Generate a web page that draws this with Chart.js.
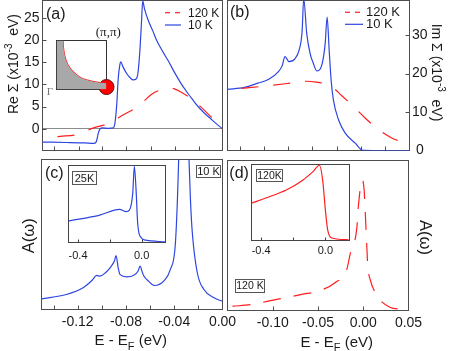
<!DOCTYPE html>
<html>
<head>
<meta charset="utf-8">
<script src="https://cdn.jsdelivr.net/npm/chart.js@4.4.0/dist/chart.umd.min.js"></script>
<style>
  html, body { margin: 0; padding: 0; background: #fff; }
  #wrap { position: relative; width: 450px; height: 351px; overflow: hidden; }
  #wrap canvas { position: absolute; left: 0; top: 0; }
</style>
</head>
<body>
<div id="wrap">
  <canvas id="pa" width="450" height="351"></canvas>
  <canvas id="pb" width="450" height="351"></canvas>
  <canvas id="pc" width="450" height="351"></canvas>
  <canvas id="pd" width="450" height="351"></canvas>
  <canvas id="pci" width="450" height="351"></canvas>
  <canvas id="pdi" width="450" height="351"></canvas>
  <canvas id="pbz" width="450" height="351"></canvas>
</div>
<script>
// (a) Re Sigma
const reE10 = [-0.150, -0.130, -0.115, -0.107, -0.105, -0.1035, -0.102, -0.100, -0.095, -0.091, -0.0895, -0.088, -0.087, -0.0855, -0.0848, -0.083, -0.080, -0.077, -0.0745, -0.072, -0.0705, -0.069, -0.0675, -0.0665, -0.065, -0.062, -0.058, -0.055, -0.050, -0.045, -0.040, -0.035, -0.030, -0.025, -0.020, -0.015, -0.010, -0.005, 0.000]
const reS10 = [-3.0, -3.1, -3.2, -3.3, -2.8, -1.0, 0.0, 0.2, 0.1, 0.2, 1.5, 6.0, 11.0, 14.5, 15.1, 14.0, 12.5, 11.5, 11.0, 11.2, 12.5, 17.0, 24.0, 28.8, 27.0, 24.5, 22.0, 20.0, 17.5, 15.2, 12.7, 10.4, 8.4, 6.6, 4.9, 3.5, 2.3, 1.1, 0.0]
const reE120 = [-0.150, -0.135, -0.121, -0.108, -0.094, -0.083, -0.070, -0.059, -0.050, -0.045, -0.040, -0.033, -0.025, -0.020, -0.010, 0.000]
const reS120 = [-2.0, -1.7, -1.3, 0.15, 1.3, 3.1, 5.1, 7.8, 8.9, 9.2, 9.0, 8.0, 6.6, 5.4, 2.8, 0.0]

// (b) Im Sigma
const imE10 = [-0.150, -0.136, -0.125, -0.116, -0.108, -0.105, -0.1026, -0.0993, -0.0943, -0.091, -0.0885, -0.0872, -0.0847, -0.0819, -0.0792, -0.0764, -0.0723, -0.0695, -0.0679, -0.0662, -0.0646, -0.0627, -0.0585, -0.053, -0.0447, -0.039, -0.030, 0.000]
const imS10 = [15.9, 16.4, 17.5, 18.5, 20.5, 22.0, 24.4, 23.1, 23.9, 26.1, 31.0, 39.5, 30.4, 25.2, 22.6, 20.7, 22.2, 27.8, 34.7, 26.1, 18.3, 13.1, 8.0, 4.5, 1.9, 0.1, 0.0, 0.0]
const imE120 = [-0.150, -0.130, -0.112, -0.096, -0.085, -0.077, -0.0695, -0.063, -0.057, -0.046, -0.0364, -0.0254, -0.013, 0.000]
const imS120 = [15.9, 16.4, 17.0, 17.6, 18.0, 17.8, 17.3, 16.3, 14.6, 11.4, 8.4, 5.4, 3.0, 1.9]

// (c) A(w) 10 K, inset 25 K
const cE10 = [-0.150, -0.1294, -0.1155, -0.108, -0.1043, -0.1016, -0.097, -0.0932, -0.0895, -0.0882, -0.0865, -0.0849, -0.0793, -0.0738, -0.070, -0.0683, -0.0665, -0.0654, -0.0613, -0.0565, -0.0487, -0.0432, -0.039, -0.0365, -0.0355, -0.033, -0.030, -0.028, -0.0265, -0.025, -0.0209, -0.0154, -0.007, 0.000]
const cA10 = [7.1, 10.0, 14.5, 19.5, 22.7, 22.2, 24.5, 27.8, 32.5, 36.0, 28.0, 23.3, 21.8, 22.7, 25.5, 28.9, 25.0, 22.7, 18.9, 16.0, 18.9, 26.7, 44.5, 95, 130, 250, 160, 105, 72, 51, 24.5, 13.3, 7.8, 5.5]
const cInsE = [-0.46, -0.263, -0.139, -0.097, -0.077, -0.056, -0.046, -0.035, -0.025, -0.004, 0.027, 0.15]
const cInsA = [27.8, 35.6, 43.0, 40.0, 42.0, 64.0, 99.0, 68.0, 25.0, 6.5, 3.0, 0.8]

// (d) A(w) 120 K, inset 120 K
const dE120 = [-0.150, -0.1438, -0.1234, -0.105, -0.0829, -0.068, -0.0478, -0.0312, -0.0182, -0.0146, -0.0071, -0.0054, -0.001, 0.001, 0.003, 0.005, 0.008, 0.0145, 0.020, 0.030, 0.040, 0.050]
const dA120 = [2.6, 2.9, 4.0, 6.2, 8.9, 10.7, 13.3, 18.5, 27.3, 37.3, 55.0, 69.5, 87.0, 80.0, 55.0, 30.0, 20.0, 10.5, 6.0, 2.0, 0.9, 0.5]
const dInsE = [-0.462, -0.348, -0.244, -0.141, -0.079, -0.037, -0.017, 0.0, 0.014, 0.045, 0.145]
const dInsA = [49, 57.6, 66.4, 79.4, 90.3, 99, 79.4, 40, 14, 3, 1]

// Brillouin zone sketch (fractions of the box)
const bzFermiX = [0.13, 0.14, 0.17, 0.22, 0.30, 0.40, 0.50, 0.62, 0.74, 0.87, 1.0]
const bzFermiY = [1.0, 0.85, 0.67, 0.52, 0.40, 0.30, 0.235, 0.19, 0.16, 0.14, 0.13]
const bzSpot = [1.0, 0.05]

const W = 450
const H = 351
const BLUE = 'rgb(45,70,225)'
const RED = 'rgb(255,30,30)'
const INK = '#1a1a1a'
const SANS = "'Liberation Sans', Arial, Helvetica, sans-serif"
const SERIF = "'Liberation Serif', 'Times New Roman', serif"
const f = (s, fam) => s + 'px ' + (fam || SANS)

Chart.defaults.font.family = SANS
Chart.defaults.color = INK

const pts = (xs, ys) => xs.map((x, i) => ({ x: x, y: ys[i] }))
const fix2 = v => (Math.round(v * 100) / 100).toFixed(2)
const fix1 = v => (Math.round(v * 10) / 10).toFixed(1)

function rich(ctx, parts, x, y, rot, align) {
  ctx.save()
  ctx.translate(x, y)
  ctx.rotate(rot || 0)
  ctx.textBaseline = 'alphabetic'
  ctx.textAlign = 'left'
  let w = 0
  parts.forEach(p => { ctx.font = p.font; w += ctx.measureText(p.t).width })
  let cx = align === 'left' ? 0 : -w / 2
  parts.forEach(p => {
    ctx.font = p.font
    ctx.fillStyle = p.color || INK
    ctx.fillText(p.t, cx, p.dy || 0)
    cx += ctx.measureText(p.t).width
  })
  ctx.restore()
}

function deco(cfg) {
  return {
    id: 'deco',
    beforeDraw(chart) {
      if (!cfg.bg) return
      const a = chart.chartArea
      chart.ctx.save()
      chart.ctx.fillStyle = cfg.bg
      chart.ctx.fillRect(a.left, a.top, a.right - a.left, a.bottom - a.top)
      chart.ctx.restore()
    },
    beforeDatasetsDraw(chart) {
      const ctx = chart.ctx
      const a = chart.chartArea
      ctx.save()
      ctx.lineWidth = 1
      ctx.strokeStyle = cfg.frame || '#4d4d4d'
      ctx.strokeRect(a.left, a.top, a.right - a.left, a.bottom - a.top)
      ;(cfg.ticks || []).forEach(([id, len]) => {
        const s = chart.scales[id]
        ctx.beginPath()
        s.ticks.forEach(t => {
          const p = s.getPixelForValue(t.value)
          if (s.isHorizontal()) {
            if (p < a.left + 1 || p > a.right - 1) return
            const x = Math.round(p) + 0.5
            ctx.moveTo(x, a.bottom)
            ctx.lineTo(x, a.bottom - len)
          } else {
            if (p < a.top + 1 || p > a.bottom - 1) return
            const y = Math.round(p) + 0.5
            if (s.position === 'right') { ctx.moveTo(a.right, y); ctx.lineTo(a.right - len, y) }
            else { ctx.moveTo(a.left, y); ctx.lineTo(a.left + len, y) }
          }
        })
        ctx.stroke()
      })
      ctx.restore()
    },
    afterDraw(chart) {
      const ctx = chart.ctx
      ctx.save()
      ctx.lineWidth = 1
      ;(cfg.boxes || []).forEach(b => {
        ctx.fillStyle = '#fff'
        ctx.fillRect(b.x1, b.y1, b.x2 - b.x1, b.y2 - b.y1)
        ctx.strokeStyle = '#555'
        ctx.strokeRect(b.x1, b.y1, b.x2 - b.x1, b.y2 - b.y1)
        ctx.fillStyle = INK
        ctx.font = f(b.size)
        ctx.textAlign = 'center'
        ctx.textBaseline = 'middle'
        ctx.fillText(b.t, (b.x1 + b.x2) / 2, (b.y1 + b.y2) / 2 + 0.5)
      })
      ;(cfg.legend || []).forEach(l => {
        const ds = chart.data.datasets[l.ds]
        ctx.strokeStyle = ds.borderColor
        ctx.lineWidth = 1.2
        ctx.setLineDash(ds.borderDash && ds.borderDash.length ? [5, 5] : [])
        ctx.beginPath()
        ctx.moveTo(l.x1, l.y)
        ctx.lineTo(l.x2, l.y)
        ctx.stroke()
        ctx.setLineDash([])
        ctx.fillStyle = INK
        ctx.font = f(l.size)
        ctx.textAlign = 'left'
        ctx.textBaseline = 'middle'
        ctx.fillText(ds.label, l.tx, l.y + 0.5)
      })
      ;(cfg.texts || []).forEach(t => rich(ctx, t.parts, t.x, t.y, t.rot, t.align))
      ctx.restore()
    }
  }
}

function zeroPad(s) {
  s.paddingTop = 0
  s.paddingBottom = 0
  s.paddingLeft = 0
  s.paddingRight = 0
}

function panel(id, area, xs, ys, datasets, cfg) {
  const yRight = ys.position === 'right'
  return new Chart(document.getElementById(id), {
    type: 'line',
    data: { datasets: datasets },
    options: {
      responsive: false,
      animation: false,
      devicePixelRatio: 1,
      events: [],
      layout: {
        autoPadding: false,
        padding: { left: yRight ? area.l : 0, right: yRight ? 0 : W - area.r, top: area.t, bottom: 0 }
      },
      plugins: { legend: { display: false }, tooltip: { enabled: false } },
      elements: { point: { radius: 0 }, line: { tension: 0 } },
      scales: {
        x: {
          type: 'linear',
          position: 'bottom',
          min: xs.min,
          max: xs.max,
          grid: { display: false, drawTicks: false },
          border: { display: false },
          ticks: Object.assign({ autoSkip: false, maxRotation: 0, includeBounds: false, display: false }, xs.ticks),
          afterFit: s => { s.height = H - area.b; zeroPad(s) }
        },
        y: {
          type: 'linear',
          position: ys.position || 'left',
          min: ys.min,
          max: ys.max,
          grid: ys.grid || { display: false, drawTicks: false },
          border: { display: false },
          ticks: Object.assign({ autoSkip: false, includeBounds: false, display: false }, ys.ticks),
          afterFit: s => { s.width = yRight ? W - area.r : area.l; zeroPad(s) }
        }
      }
    },
    plugins: [deco(cfg)]
  })
}

const line = (label, data, color, dash, offset) => ({
  label: label,
  data: data,
  borderColor: color,
  backgroundColor: color,
  borderWidth: 1.2,
  borderDash: dash || [],
  borderDashOffset: offset || 0,
  cubicInterpolationMode: 'monotone',
  pointRadius: 0,
  fill: false
})

const xTitle = (x, y) => ({
  parts: [{ t: 'E - E', font: f(15) }, { t: 'F', font: f(11), dy: 4.5 }, { t: ' (eV)', font: f(15) }],
  x: x, y: y
})

// (a)
panel('pa', { l: 42.5, r: 222.5, t: 0.5, b: 150.5 },
  { min: -0.15, max: 0, ticks: { stepSize: 0.02 } },
  {
    min: -4.9, max: 28.9,
    ticks: { display: true, stepSize: 5, padding: 3, font: { size: 14 } },
    grid: { display: true, drawTicks: false, lineWidth: 1, color: c => (c.tick && c.tick.value === 0 ? '#8c8c8c' : 'rgba(0,0,0,0)') }
  },
  [
    line('120 K', pts(reE120, reS120), RED, [17, 15], 17),
    line('10 K', pts(reE10, reS10), BLUE)
  ],
  {
    ticks: [['x', 4], ['y', 4]],
    legend: [{ ds: 0, x1: 165, x2: 181, y: 12.7, tx: 188, size: 12 }, { ds: 1, x1: 165, x2: 181, y: 25, tx: 188, size: 12 }],
    texts: [
      { parts: [{ t: '(a)', font: f(16) }], x: 46, y: 18.5, align: 'left' },
      { parts: [{ t: 'Re Σ (x10', font: f(14) }, { t: '-3', font: f(10), dy: -6 }, { t: '  eV)', font: f(14) }], x: 17.5, y: 64, rot: -Math.PI / 2 }
    ]
  })

// (b)
panel('pb', { l: 227.5, r: 409.5, t: 0.5, b: 150.5 },
  { min: -0.15, max: 0, ticks: { stepSize: 0.02 } },
  { position: 'right', min: 0, max: 39, ticks: { display: true, stepSize: 10, padding: 2.5, crossAlign: 'center', font: { size: 14 } } },
  [
    line('120 K', pts(imE120, imS120), RED, [17, 15], 18),
    line('10 K', pts(imE10, imS10), BLUE)
  ],
  {
    ticks: [['x', 4], ['y', 4]],
    legend: [{ ds: 0, x1: 345, x2: 363, y: 12.3, tx: 366, size: 13 }, { ds: 1, x1: 345, x2: 363, y: 24.3, tx: 366, size: 13 }],
    texts: [
      { parts: [{ t: '(b)', font: f(16) }], x: 230, y: 16.6, align: 'left' },
      { parts: [{ t: 'Im Σ (x10', font: f(14) }, { t: '-3', font: f(10), dy: -6 }, { t: '  eV)', font: f(14) }], x: 432, y: 72.5, rot: Math.PI / 2 }
    ]
  })

// (c)
panel('pc', { l: 41.5, r: 222.5, t: 159.5, b: 309.5 },
  { min: -0.15, max: 0, ticks: { display: true, stepSize: 0.02, padding: 4, font: { size: 14 }, callback: v => (Math.round(v * 100) % 4 === 0 ? fix2(v) : '') } },
  { min: 0, max: 100 },
  [line('10 K', pts(cE10, cA10), BLUE)],
  {
    ticks: [['x', 4]],
    boxes: [{ x1: 196.5, y1: 165.5, x2: 220.5, y2: 177.5, t: '10 K', size: 11 }],
    texts: [
      { parts: [{ t: '(c)', font: f(16) }], x: 45, y: 178.3, align: 'left' },
      { parts: [{ t: 'A(ω)', font: f(16.5) }], x: 34, y: 235.7, rot: -Math.PI / 2 },
      xTitle(130.8, 345)
    ]
  })

// (d)
panel('pd', { l: 227.5, r: 408.5, t: 160.5, b: 310.5 },
  { min: -0.15, max: 0.05, ticks: { display: true, stepSize: 0.05, padding: 4, font: { size: 14 }, callback: v => (v < -0.14 ? '' : fix2(v)) } },
  { min: 0, max: 100 },
  [line('120 K', pts(dE120, dA120), RED, [18, 13], 26)],
  {
    ticks: [['x', 4]],
    boxes: [{ x1: 235.5, y1: 279.5, x2: 264.5, y2: 292.5, t: '120 K', size: 10.5 }],
    texts: [
      { parts: [{ t: '(d)', font: f(16) }], x: 229.3, y: 178.3, align: 'left' },
      { parts: [{ t: 'A(ω)', font: f(16.5) }], x: 420, y: 237.5, rot: Math.PI / 2 },
      xTitle(336.7, 346.5)
    ]
  })

// insets
const insetX = pad => ({
  min: -0.46, max: 0.15,
  ticks: { display: true, stepSize: 0.2, padding: pad, font: { size: 11 }, callback: v => (Math.abs(v + 0.2) < 0.01 ? '' : fix1(v)) }
})

panel('pci', { l: 68.5, r: 165.5, t: 165.5, b: 242.5 }, insetX(7), { min: 0, max: 100 },
  [line('25K', pts(cInsE, cInsA), BLUE)],
  { bg: '#fff', frame: '#444', ticks: [['x', 3]], boxes: [{ x1: 72.5, y1: 171.5, x2: 96.5, y2: 184.5, t: '25K', size: 11 }] })

panel('pdi', { l: 251.5, r: 349.5, t: 164.5, b: 240.5 }, insetX(4), { min: 0, max: 100 },
  [line('120K', pts(dInsE, dInsA), RED)],
  { bg: '#fff', frame: '#444', ticks: [['x', 3]], boxes: [{ x1: 256.5, y1: 169.5, x2: 282.5, y2: 181.5, t: '120K', size: 10.5 }] })

// Brillouin zone quadrant in (a)
panel('pbz', { l: 56.5, r: 106.5, t: 40.5, b: 89.5 }, { min: 0, max: 1 }, { min: 0, max: 1 },
  [
    {
      data: [{ x: 0, y: 1 }].concat(pts(bzFermiX, bzFermiY)),
      borderWidth: 0, borderColor: 'rgba(0,0,0,0)', backgroundColor: '#a8a8a8',
      fill: 'start', pointRadius: 0, cubicInterpolationMode: 'monotone'
    },
    {
      data: pts(bzFermiX, bzFermiY),
      borderWidth: 1.2, borderColor: RED, fill: false, pointRadius: 0, cubicInterpolationMode: 'monotone'
    },
    {
      data: [{ x: bzSpot[0], y: bzSpot[1] }],
      showLine: false, pointRadius: 7.5, pointBackgroundColor: 'rgb(255,0,0)',
      pointBorderColor: '#5a1010', pointBorderWidth: 1, clip: false
    }
  ],
  {
    bg: '#fff', frame: '#333',
    texts: [
      { parts: [{ t: '(π,π)', font: f(13, SERIF) }], x: 108.3, y: 35.5 },
      { parts: [{ t: 'Γ', font: f(11, SERIF), color: '#777' }], x: 50, y: 95 }
    ]
  })
</script>
</body>
</html>
